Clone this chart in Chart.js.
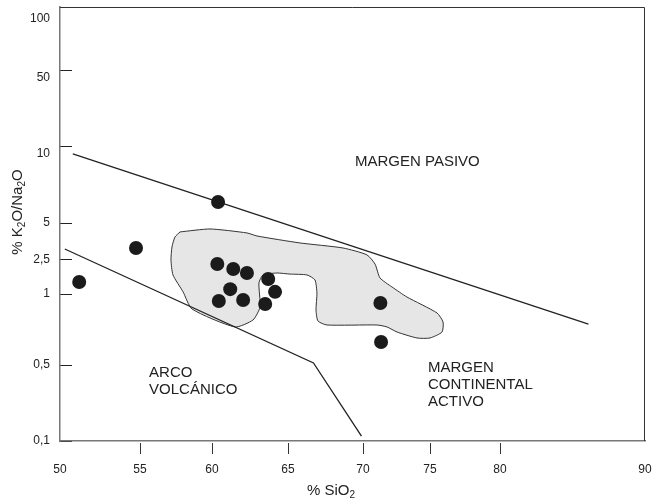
<!DOCTYPE html>
<html>
<head>
<meta charset="utf-8">
<script src="https://cdn.jsdelivr.net/npm/chart.js@4.4.1/dist/chart.umd.min.js"></script>
<style>
  html, body { margin: 0; padding: 0; background: #fff; }
  #wrap { width: 654px; height: 501px; position: relative; }
</style>
</head>
<body>
<div id="wrap"><canvas id="chart"></canvas></div>
<script>
// muestras (SiO2 % / K2O/Na2O)
const sampleSiO2 = [51.2, 54.75, 60.4, 60.35, 61.4, 62.3, 61.2, 60.45, 62.05, 63.7, 64.15, 63.5, 71.3, 71.35];
const sampleRatio = [1.38, 3.13, 6.04, 2.24, 1.96, 1.76, 1.14, 0.934, 0.943, 1.50, 1.06, 0.907, 0.916, 0.626];

// limite margen pasivo / margen continental activo
const pmSiO2 = [50.8, 86.1];
const pmRatio = [9.31, 0.746];

// limite arco volcanico / margen continental activo
const arcSiO2 = [50.3, 66.7, 69.9];
const arcRatio = [3.07, 0.51, 0.111];

// campo sombreado
const fieldSiO2 = [57.78, 59.86, 62.3, 62.96, 65.8, 68.67, 70.3, 70.9, 71.27, 72.16, 73.28, 75.5, 75.93, 75.86,
  75.0, 74.03, 72.54, 71.79, 71.04, 67.6, 67.0, 66.87, 66.93, 66.8, 66.27, 65.13, 64.28, 63.36, 63.09, 63.16,
  62.7, 61.51, 58.61, 57.99, 57.29, 57.15, 57.22, 57.43, 57.78];
const fieldRatio = [4.23, 4.47, 4.15, 3.92, 3.44, 3.13, 2.75, 2.24, 1.54, 1.21, 0.971, 0.831, 0.761, 0.69,
  0.651, 0.651, 0.69, 0.725, 0.739, 0.739, 0.768, 0.855, 1.03, 1.46, 1.67, 1.71, 1.76, 1.67, 1.35, 0.881,
  0.776, 0.725, 0.864, 1.06, 1.67, 2.5, 3.19, 3.85, 4.23];

const xTicks = [50, 55, 60, 65, 70, 75, 80, 90];
const xTickMarks = [55, 60, 65, 70, 75, 80];
const yTicks = [0.1, 0.5, 1, 2.5, 5, 10, 50, 100];
const yTickLabels = ['0,1', '0,5', '1', '2,5', '5', '10', '50', '100'];

const fieldLabels = [
  { lines: ['MARGEN PASIVO'], x: 69.47, y: 8.66 },
  { lines: ['ARCO', 'VOLCÁNICO'], x: 55.63, y: 0.422 },
  { lines: ['MARGEN', 'CONTINENTAL', 'ACTIVO'], x: 74.85, y: 0.469 }
];

const FONT = '"Liberation Sans", Arial, sans-serif';
const INK = '#222';

// the printed axes are not evenly spaced, so ticks are pinned to where they sit on the drawing
class AnchoredScale extends Chart.LinearScale {
  static id = 'anchored';
  static defaults = Chart.LinearScale.defaults;
  _t(v) { return this.options.logarithmic ? Math.log10(v) : v; }
  _decimal(v) {
    const vals = this.options.anchorValues, pos = this.options.anchorPositions;
    const t = this._t(v);
    let i = 0;
    while (i < vals.length - 2 && t > this._t(vals[i + 1])) i++;
    const t0 = this._t(vals[i]), t1 = this._t(vals[i + 1]);
    return pos[i] + (t - t0) / (t1 - t0) * (pos[i + 1] - pos[i]);
  }
  getPixelForValue(v) { return this.getPixelForDecimal(this._decimal(v)); }
}
Chart.register(AnchoredScale);

const pts = (xs, ys) => xs.map((x, i) => ({ x: x, y: ys[i] }));

function drawRich(ctx, parts, cx, cy, angle) {
  const big = '15px ' + FONT, small = '10px ' + FONT;
  let w = 0;
  parts.forEach(p => { ctx.font = p[1] ? small : big; w += ctx.measureText(p[0]).width; });
  ctx.save();
  ctx.translate(cx, cy);
  ctx.rotate(angle);
  let px = -w / 2;
  parts.forEach(p => {
    ctx.font = p[1] ? small : big;
    ctx.fillText(p[0], px, p[1] ? 4 : 0);
    px += ctx.measureText(p[0]).width;
  });
  ctx.restore();
}

const diagramText = {
  id: 'diagramText',
  beforeDatasetsDraw(chart) {
    const { ctx, chartArea, scales: { x } } = chart;
    ctx.save();
    ctx.strokeStyle = '#333';
    ctx.lineWidth = 1;
    ctx.beginPath();
    ctx.moveTo(chartArea.left, chartArea.top + 0.5);
    ctx.lineTo(chartArea.right - 0.5, chartArea.top + 0.5);
    ctx.lineTo(chartArea.right - 0.5, chartArea.bottom);
    ctx.stroke();
    // x tick marks hang below the frame
    ctx.beginPath();
    xTickMarks.forEach(v => {
      const px = Math.round(x.getPixelForValue(v)) + 0.5;
      ctx.moveTo(px, chartArea.bottom + 2);
      ctx.lineTo(px, chartArea.bottom + 13);
    });
    ctx.stroke();
    ctx.restore();
  },
  afterDraw(chart) {
    const { ctx, chartArea, scales: { x, y } } = chart;
    ctx.save();
    ctx.fillStyle = INK;
    ctx.textBaseline = 'middle';
    ctx.textAlign = 'left';
    ctx.font = '15px ' + FONT;
    fieldLabels.forEach(f => {
      f.lines.forEach((line, i) => {
        ctx.fillText(line, x.getPixelForValue(f.x), y.getPixelForValue(f.y) + i * 17);
      });
    });
    drawRich(ctx, [['% SiO', 0], ['2', 1]], chartArea.left + 271, chartArea.bottom + 50, 0);
    drawRich(ctx, [['% K', 0], ['2', 1], ['O/Na', 0], ['2', 1], ['O', 0]],
      chartArea.left - 42, chartArea.top + 205, -Math.PI / 2);
    ctx.restore();
  }
};

new Chart(document.getElementById('chart'), {
  type: 'scatter',
  data: {
    datasets: [
      {
        label: 'Muestras',
        data: pts(sampleSiO2, sampleRatio),
        pointRadius: 7,
        pointBackgroundColor: '#1b1b1b',
        pointBorderWidth: 0,
        order: 0
      },
      {
        label: 'PM / ACM',
        data: pts(pmSiO2, pmRatio),
        showLine: true,
        borderColor: INK,
        borderWidth: 1.3,
        pointRadius: 0,
        order: 1
      },
      {
        label: 'ARC / ACM',
        data: pts(arcSiO2, arcRatio),
        showLine: true,
        borderColor: INK,
        borderWidth: 1.3,
        pointRadius: 0,
        order: 1
      },
      {
        label: 'Campo',
        data: pts(fieldSiO2, fieldRatio),
        showLine: true,
        fill: 'shape',
        backgroundColor: '#e6e6e6',
        borderColor: '#333',
        borderWidth: 1,
        pointRadius: 0,
        tension: 0.2,
        order: 2
      }
    ]
  },
  options: {
    responsive: true,
    maintainAspectRatio: false,
    animation: false,
    events: [],
    layout: { padding: { left: 0, right: 9, top: 7, bottom: 0 } },
    plugins: { legend: { display: false }, tooltip: { enabled: false } },
    scales: {
      x: {
        type: 'anchored',
        position: 'bottom',
        min: 50,
        max: 90,
        anchorValues: xTicks,
        anchorPositions: [0, 0.1368, 0.2598, 0.3897, 0.5179, 0.6325, 0.7521, 1],
        afterBuildTicks: s => { s.ticks = xTicks.map(v => ({ value: v })); },
        afterFit: s => { s.height = 60; s.paddingLeft = 0; s.paddingRight = 0; },
        border: { display: true, color: '#777', width: 1.5 },
        grid: { display: false, drawTicks: true, tickLength: 12 },
        ticks: {
          autoSkip: false,
          maxRotation: 0,
          padding: 9,
          color: INK,
          font: { family: FONT, size: 12 },
          callback: v => String(v)
        }
      },
      y: {
        type: 'anchored',
        position: 'left',
        min: 0.1,
        max: 118,
        logarithmic: true,
        anchorValues: [0.1, 0.5, 1, 2.5, 5, 10, 50, 100, 118],
        anchorPositions: [0, 0.1751, 0.3387, 0.4171, 0.5023, 0.6797, 0.8548, 0.9724, 1],
        afterBuildTicks: s => { s.ticks = yTicks.map(v => ({ value: v })); },
        afterFit: s => { s.width = 60; s.paddingTop = 0; s.paddingBottom = 0; },
        border: { display: true, color: '#777', width: 1.5 },
        grid: {
          drawOnChartArea: false,
          drawTicks: true,
          tickLength: -12,
          color: c => (c.tick && c.tick.value === 100) ? 'rgba(0,0,0,0)' : '#222',
          tickColor: c => (c.tick && c.tick.value === 100) ? 'rgba(0,0,0,0)' : '#222'
        },
        ticks: {
          autoSkip: false,
          padding: 22,
          color: INK,
          font: { family: FONT, size: 12 },
          callback: v => {
            const lab = yTickLabels[yTicks.indexOf(v)];
            // the printed labels for 10 and 50 sit a little below their marks
            return (v === 10 || v === 50) ? ['', lab] : lab;
          }
        }
      }
    }
  },
  plugins: [diagramText]
});
</script>
</body>
</html>
